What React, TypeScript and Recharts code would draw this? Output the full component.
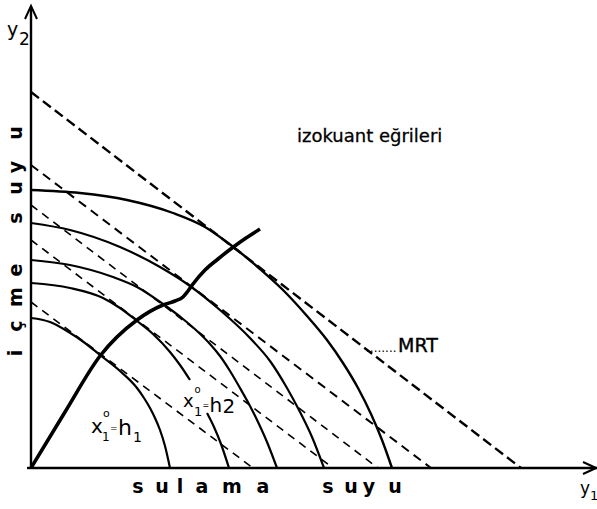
import React from 'react';
import { ComposedChart, Line, XAxis, YAxis, ReferenceLine, Customized } from 'recharts';

// Isoquant curves (x1° = h1 ... outermost)
const isoquant1 = [
  { x: 0, y: 150 }, { x: 19, y: 146 }, { x: 36, y: 137 }, { x: 54, y: 125 }, { x: 69, y: 113 },
  { x: 89, y: 97 }, { x: 106, y: 80 }, { x: 113, y: 70 }, { x: 119, y: 60 }, { x: 124, y: 50 },
  { x: 129, y: 38 }, { x: 134, y: 22 }, { x: 139, y: 0 },
];
const isoquant2 = [
  { x: 0, y: 185 }, { x: 39, y: 180 }, { x: 72, y: 170 }, { x: 89, y: 160 }, { x: 106, y: 147 },
  { x: 122, y: 134 }, { x: 139, y: 116 }, { x: 149, y: 103 }, { x: 159, y: 88 },
  { x: 168, y: null },
  { x: 176, y: 55 }, { x: 183, y: 41 }, { x: 190, y: 24 }, { x: 198, y: 0 },
];
const isoquant3 = [
  { x: 0, y: 208 }, { x: 39, y: 203 }, { x: 82, y: 191 }, { x: 106, y: 181 }, { x: 132, y: 164 },
  { x: 152, y: 149 }, { x: 166, y: 137 }, { x: 179, y: 124 }, { x: 189, y: 112 }, { x: 199, y: 97 },
  { x: 209, y: 80 }, { x: 219, y: 62 }, { x: 227, y: 46 }, { x: 236, y: 26 }, { x: 246, y: 0 },
];
const isoquant4 = [
  { x: 0, y: 245 }, { x: 39, y: 238 }, { x: 89, y: 221 }, { x: 129, y: 201 }, { x: 159, y: 182 },
  { x: 189, y: 158 }, { x: 219, y: 130 }, { x: 239, y: 107 }, { x: 256, y: 80 }, { x: 269, y: 56 },
  { x: 281, y: 31 }, { x: 293, y: 0 },
];
const isoquant5 = [
  { x: 0, y: 278 }, { x: 49, y: 275 }, { x: 96, y: 268 }, { x: 142, y: 255 }, { x: 174, y: 241 },
  { x: 201, y: 222 }, { x: 229, y: 199 }, { x: 252, y: 178 }, { x: 276, y: 152 }, { x: 296, y: 128 },
  { x: 312, y: 105 }, { x: 327, y: 80 }, { x: 340, y: 54 }, { x: 351, y: 28 }, { x: 361, y: 0 },
];

// Expansion path through the tangency points
const expansionPath = [
  { x: 0, y: 0 }, { x: 34, y: 56 }, { x: 69, y: 112 }, { x: 106, y: 148 }, { x: 132, y: 163 },
  { x: 144, y: 167 }, { x: 152, y: 171 }, { x: 157, y: 177 }, { x: 162, y: 184 }, { x: 174, y: 198 },
  { x: 187, y: 209 }, { x: 201, y: 220 }, { x: 215, y: 230 }, { x: 229, y: 239 },
];

// MRT (iso-revenue) dashed lines
const mrt1 = [{ x: 0, y: 376 }, { x: 490, y: 0 }];
const mrt2 = [{ x: 0, y: 303 }, { x: 400, y: 0 }];
const mrt3 = [{ x: 0, y: 263 }, { x: 347, y: 0 }];
const mrt4 = [{ x: 0, y: 228 }, { x: 302, y: 0 }];
const mrt5 = [{ x: 0, y: 166 }, { x: 222, y: 0 }];

const xDomain = [0, 566];
const yDomain = [0, 460];

const FONT = 'DejaVu Sans';

const Overlay = () => (
  <g fontFamily={FONT} fill="#000">
    {/* axis arrowheads */}
    <path d="M25,19 L31,6 L37,19" stroke="#000" strokeWidth={2} fill="none" />
    <path d="M583,462 L596,468 L583,474" stroke="#000" strokeWidth={2} fill="none" />
    <line x1={27} y1={468} x2={31} y2={468} stroke="#000" strokeWidth={2.4} />

    {/* axis names */}
    <text x={7} y={36} fontSize={19}>
      y<tspan x={19} y={45} fontSize={17}>2</tspan>
    </text>
    <text x={580} y={494} fontSize={17}>
      y<tspan x={590} y={500} fontSize={13}>1</tspan>
    </text>

    <text
      transform="translate(22,0) rotate(-90)"
      x="-353 -326 -297 -270 -244 -218 -188 -167 -133"
      y={0}
      fontSize={19}
      fontWeight="bold"
      textAnchor="middle"
    >
      içme suyu
    </text>
    <text
      x="138 162 180 202 232 263 295 328 351 369 395"
      y={493}
      fontSize={19}
      fontWeight="bold"
      textAnchor="middle"
    >
      sulama suyu
    </text>

    <text x={297} y={142} fontSize={18} stroke="#000" strokeWidth={0.3}>
      izokuant eğrileri
    </text>

    <text y={352}>
      <tspan x={366} fontSize={12}>........</tspan>
      <tspan x={398} fontSize={19} stroke="#000" strokeWidth={0.4}>MRT</tspan>
    </text>

    <text fontSize={20}>
      <tspan x={91} y={433}>x</tspan>
      <tspan x={103} y={417} fontSize={11}>o</tspan>
      <tspan x={102} y={441} fontSize={12}>1</tspan>
      <tspan x={110} y={431} fontSize={9}>=</tspan>
      <tspan x={118} y={435} fontSize={22}>h</tspan>
      <tspan x={133} y={442} fontSize={14}>1</tspan>
    </text>

    <text fontSize={18}>
      <tspan x={183} y={407}>x</tspan>
      <tspan x={194.5} y={393} fontSize={10}>o</tspan>
      <tspan x={194} y={416} fontSize={13}>1</tspan>
      <tspan x={202.5} y={408} fontSize={8}>=</tspan>
      <tspan x={209.5} y={412} fontSize={20}>h</tspan>
      <tspan x={222.5} y={413} fontSize={20}>2</tspan>
    </text>
  </g>
);

export default function App() {
  const solid = { stroke: '#000', dot: false as const, isAnimationActive: false, type: 'monotone' as const, dataKey: 'y' };
  const dashed = { stroke: '#000', dot: false as const, isAnimationActive: false, type: 'linear' as const, dataKey: 'y' };
  return (
    <div style={{ position: 'absolute', left: 0, top: 0, width: 597, height: 509, background: '#fff' }}>
      <ComposedChart width={597} height={509} margin={{ top: 8, right: 0, bottom: 41, left: 31 }}>
        <XAxis type="number" dataKey="x" domain={xDomain} hide />
        <YAxis type="number" domain={yDomain} hide />
        <ReferenceLine x={0} stroke="#000" strokeWidth={2.4} />
        <ReferenceLine y={0} stroke="#000" strokeWidth={2.4} />
        <Line {...dashed} data={mrt1} strokeWidth={2.4} strokeDasharray="10 5" />
        <Line {...dashed} data={mrt2} strokeWidth={2} strokeDasharray="9 6" />
        <Line {...dashed} data={mrt3} strokeWidth={1.6} strokeDasharray="8 6" />
        <Line {...dashed} data={mrt4} strokeWidth={1.6} strokeDasharray="8 6" />
        <Line {...dashed} data={mrt5} strokeWidth={1.6} strokeDasharray="8 6" />
        <Line {...solid} data={isoquant1} strokeWidth={2.2} />
        <Line {...solid} data={isoquant2} strokeWidth={2.2} connectNulls={false} />
        <Line {...solid} data={isoquant3} strokeWidth={2.2} />
        <Line {...solid} data={isoquant4} strokeWidth={2.2} />
        <Line {...solid} data={isoquant5} strokeWidth={2.4} />
        <Line {...solid} data={expansionPath} strokeWidth={3.6} />
        <Customized component={Overlay} />
      </ComposedChart>
    </div>
  );
}
